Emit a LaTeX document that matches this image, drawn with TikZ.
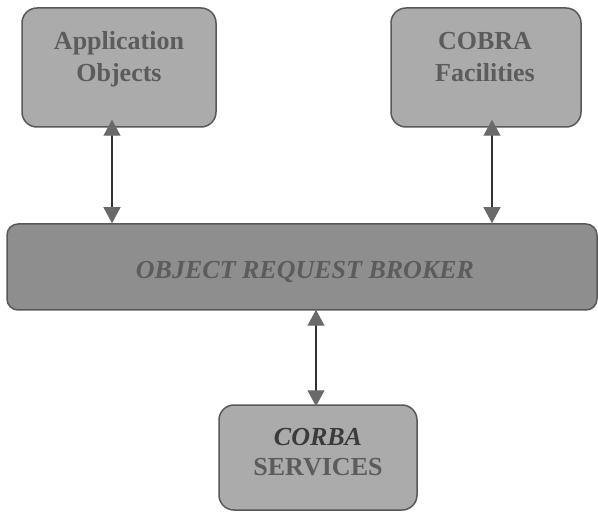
\documentclass[tikz,border=0pt]{standalone}
\usepackage{fontspec}
\setmainfont{Liberation Serif}
\usetikzlibrary{arrows.meta}
\definecolor{boxfill}{HTML}{ABABAB}
\definecolor{orbfill}{HTML}{8E8E8E}
\definecolor{boxedge}{HTML}{585858}
\definecolor{txt}{HTML}{5C5C5C}
\definecolor{tipgray}{HTML}{6A6A6A}
\definecolor{linedark}{HTML}{333333}
\tikzset{
  box/.style={draw=boxedge, line width=1.5pt, fill=boxfill, rounded corners=15pt, minimum width=#1, inner sep=0pt},
  orbbox/.style={draw=boxedge, line width=1.5pt, fill=orbfill, rounded corners=11pt, inner sep=0pt},
  lbl/.style={anchor=base, text=txt, font=\fontsize{26}{31}\selectfont\bfseries, inner sep=0pt},
  dbl/.style={draw=linedark, line width=1.3pt, {Triangle[width=17pt,length=16pt,fill=tipgray,color=tipgray]}-{Triangle[width=17pt,length=16pt,fill=tipgray,color=tipgray]}}
}
\begin{document}
\begin{tikzpicture}[x=1pt,y=-1pt]
\useasboundingbox (0,0) rectangle (598,516);
\node[box=194pt, minimum height=119pt] (app) at (119,67.5) {};
\node[box=190pt, minimum height=119pt] (fac) at (486,67.5) {};
\node[orbbox, minimum width=590pt, minimum height=86pt] (orb) at (302,267) {};
\node[box=198pt, minimum height=105pt] (svc) at (318,457.5) {};
\node[lbl] (t1) at (119,50) {Application};
\node[lbl] (t2) at (119,82) {Objects};
\node[lbl] (t3) at (485,50) {COBRA};
\node[lbl] (t4) at (485,82) {Facilities};
\node[lbl, font=\fontsize{26}{31}\selectfont\bfseries\itshape] (t5) at (305,279) {OBJECT REQUEST BROKER};
\node[lbl, text=linedark!80!txt, font=\fontsize{26}{31}\selectfont\bfseries\itshape] (t6) at (318,445) {CORBA};
\node[lbl] (t7) at (318,475) {SERVICES};
\draw[dbl] ([xshift=-7pt,yshift=8pt]app.south) -- ([xshift=-7pt]app.south |- orb.north);
\draw[dbl] ([xshift=6pt,yshift=8pt]fac.south) -- ([xshift=6pt]fac.south |- orb.north);
\draw[dbl] ([xshift=-2pt,yshift=1pt]svc.north |- orb.south) -- ([xshift=-2pt,yshift=-2pt]svc.north);
\end{tikzpicture}
\end{document}
